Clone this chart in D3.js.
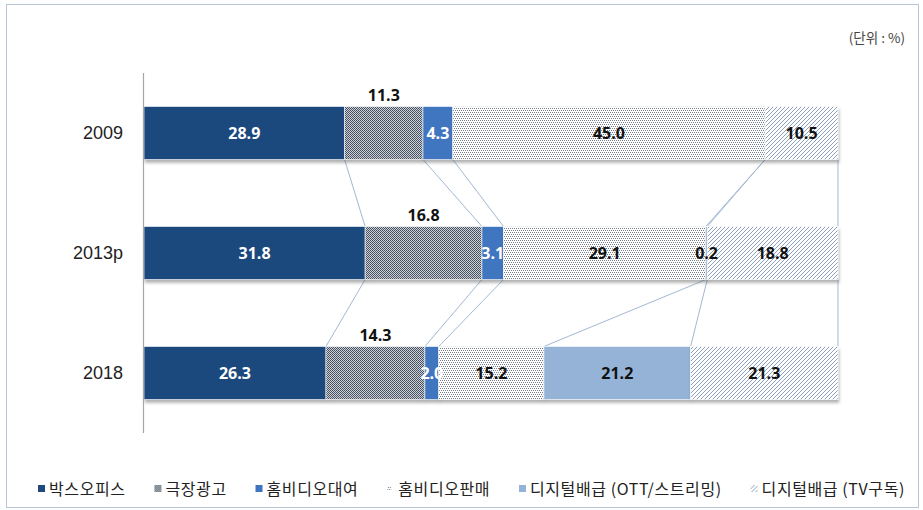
<!DOCTYPE html>
<html><head><meta charset="utf-8">
<script src="https://cdn.jsdelivr.net/npm/d3@7"></script>
<style>
html,body{margin:0;padding:0;background:#fff;}
svg{display:block;font-family:"Noto Sans CJK KR","Noto Sans",sans-serif;}
</style></head>
<body>
<script>
const categories = ["2009", "2013p", "2018"];
const seriesNames = ["박스오피스", "극장광고", "홈비디오대여", "홈비디오판매", "디지털배급 (OTT/스트리밍)", "디지털배급 (TV구독)"];
const boxOffice   = [28.9, 31.8, 26.3];
const theaterAd   = [11.3, 16.8, 14.3];
const videoRental = [4.3, 3.1, 2.0];
const videoSales  = [45.0, 29.1, 15.2];
const digitalOTT  = [0, 0.2, 21.2];
const digitalTV   = [10.5, 18.8, 21.3];
const unitLabel = "(단위 : %)";

const seriesValues = [boxOffice, theaterAd, videoRental, videoSales, digitalOTT, digitalTV];
const rows = categories.map((c, i) => {
  const r = {cat: c};
  seriesNames.forEach((s, k) => r[s] = seriesValues[k][i]);
  return r;
});

const W = 923, H = 510;
const svg = d3.select("body").append("svg").attr("width", W).attr("height", H);
const defs = svg.append("defs");

// patterns
const pAd = defs.append("pattern").attr("id", "pAd").attr("patternUnits", "userSpaceOnUse").attr("width", 2).attr("height", 2);
pAd.append("rect").attr("width", 2).attr("height", 2).attr("fill", "#cfd3d8");
pAd.append("rect").attr("width", 1).attr("height", 1).attr("fill", "#414c5c");
pAd.append("rect").attr("x", 1).attr("y", 1).attr("width", 1).attr("height", 1).attr("fill", "#4b5566");

const pSales = defs.append("pattern").attr("id", "pSales").attr("patternUnits", "userSpaceOnUse").attr("width", 4).attr("height", 4);
pSales.append("rect").attr("width", 4).attr("height", 4).attr("fill", "#ffffff");
[[0,0],[2,0],[1,2],[3,2]].forEach(([px,py]) =>
  pSales.append("rect").attr("x", px).attr("y", py).attr("width", 1).attr("height", 1).attr("fill", "#767e8b"));

const pTV = defs.append("pattern").attr("id", "pTV").attr("patternUnits", "userSpaceOnUse").attr("width", 4).attr("height", 4);
pTV.append("rect").attr("width", 4).attr("height", 4).attr("fill", "#ffffff");
pTV.append("path").attr("d", "M-1,1 L1,-1 M0,4 L4,0 M3,5 L5,3").attr("stroke", "#7f96b8").attr("stroke-width", 0.9);

const fills = ["#1f497d", "url(#pAd)", "#3f74bf", "url(#pSales)", "#95b3d7", "url(#pTV)"];
const labelColors = ["#ffffff", "#111111", "#ffffff", "#111111", "#111111", "#111111"];

const shadow = defs.append("filter").attr("id", "sh").attr("x", "-5%").attr("y", "-20%").attr("width", "110%").attr("height", "150%");
shadow.append("feDropShadow").attr("dx", 1).attr("dy", 3).attr("stdDeviation", 1.5).attr("flood-color", "#555").attr("flood-opacity", 0.45);

// frame
svg.append("rect").attr("x", 6.5).attr("y", 4.5).attr("width", 912).attr("height", 503)
  .attr("fill", "none").attr("stroke", "#b7c6d6").attr("stroke-width", 1);

const x = d3.scaleLinear().domain([0, 1]).range([144, 838]);
const y = d3.scaleBand().domain(categories).range([73, 433]).paddingInner(0.558).paddingOuter(0.279);

const stack = d3.stack().keys(seriesNames).offset(d3.stackOffsetExpand)(rows);

// series lines
const lineG = svg.append("g");
stack.forEach((s, k) => {
  for (let i = 0; i < categories.length - 1; i++) {
    lineG.append("line")
      .attr("x1", x(s[i][1])).attr("y1", y(categories[i]) + y.bandwidth())
      .attr("x2", x(s[i + 1][1])).attr("y2", y(categories[i + 1]))
      .attr("stroke", "#a3b8d4").attr("stroke-width", 1);
  }
});

// bars
const barG = svg.append("g");
stack.forEach((s, k) => {
  barG.append("g").attr("filter", "url(#sh)")
    .selectAll("rect").data(s).join("rect")
    .attr("x", d => x(d[0]))
    .attr("y", d => y(d.data.cat))
    .attr("width", d => Math.max(0, x(d[1]) - x(d[0])))
    .attr("height", y.bandwidth())
    .attr("fill", fills[k])
    .attr("stroke", "#ffffff").attr("stroke-width", 0.6);
});

// axis line
svg.append("line").attr("x1", 143.5).attr("x2", 143.5).attr("y1", 73).attr("y2", 433)
  .attr("stroke", "#a6a6a6").attr("stroke-width", 1.2);

// y labels
const yAxis = d3.axisLeft(y).tickSize(0).tickPadding(20);
const ya = svg.append("g").attr("transform", "translate(143,0)").call(yAxis);
ya.select(".domain").remove();
ya.selectAll("text").attr("font-size", 18).attr("fill", "#222")
  .attr("font-family", "'Liberation Sans','Noto Sans',sans-serif");

// value labels
const labG = svg.append("g").attr("font-weight", "bold").attr("font-size", 16)
  .attr("font-family", "'Open Sans','Noto Sans',sans-serif").attr("text-anchor", "middle");
stack.forEach((s, k) => {
  s.forEach((d, i) => {
    const v = seriesValues[k][i];
    if (!v) return;
    const cx = (x(d[0]) + x(d[1])) / 2;
    const above = k === 1;
    labG.append("text")
      .attr("x", cx)
      .attr("y", above ? y(d.data.cat) - 5 : y(d.data.cat) + y.bandwidth() / 2)
      .attr("dy", above ? 0 : "0.36em")
      .attr("fill", above ? "#111" : labelColors[k])
      .text(v.toFixed(1));
  });
});

// unit label
svg.append("text").attr("x", 905).attr("y", 43).attr("text-anchor", "end")
  .attr("font-size", 13.5).attr("fill", "#444").text(unitLabel);

// legend: sequential layout, justified between 38 and 905
const lg = svg.append("g").attr("transform", "translate(0,489)");
const items = seriesNames.map((n, k) => {
  const g = lg.append("g");
  const sz = k === 3 ? 4 : 7;
  g.append("rect").attr("x", 0).attr("y", -sz / 2 - 0.5).attr("width", sz).attr("height", sz)
    .attr("fill", fills[k]);
  const t = g.append("text").attr("x", 11).attr("y", 0).attr("dy", "0.35em")
    .attr("font-size", 16).attr("letter-spacing", "0.6px").attr("fill", "#222").text(n);
  return {g, w: 11 + t.node().getComputedTextLength()};
});
const startX = 38, endX = 905;
const totalW = d3.sum(items, d => d.w);
const gap = (endX - startX - totalW) / (items.length - 1);
let cx = startX;
items.forEach(it => { it.g.attr("transform", `translate(${cx},0)`); cx += it.w + gap; });
</script>
</body></html>
